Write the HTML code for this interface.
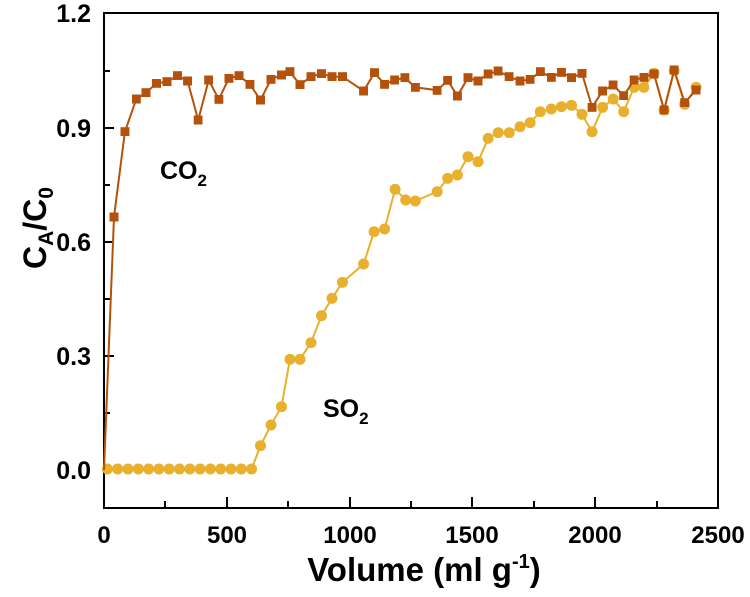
<!DOCTYPE html>
<html><head><meta charset="utf-8"><style>
body{margin:0;background:#fff;}
text{font-family:"Liberation Sans",Arial,sans-serif;font-weight:bold;fill:#000;}
</style></head><body>
<svg width="750" height="592" viewBox="0 0 750 592" xmlns="http://www.w3.org/2000/svg">
<defs>
<marker id="sq" viewBox="0 0 10 10" refX="5" refY="5" markerWidth="9" markerHeight="9" markerUnits="userSpaceOnUse"><rect width="10" height="10" fill="#b4520c"/></marker>
<marker id="ci" viewBox="0 0 10 10" refX="5" refY="5" markerWidth="11" markerHeight="11" markerUnits="userSpaceOnUse"><circle cx="5" cy="5" r="5" fill="#e9b02e"/></marker>
</defs>
<rect x="104" y="13" width="614" height="495" fill="none" stroke="#000" stroke-width="2"/>
<g stroke="#000" stroke-width="2">
<line x1="104" y1="470" x2="114" y2="470"/><line x1="104" y1="356" x2="114" y2="356"/><line x1="104" y1="242" x2="114" y2="242"/><line x1="104" y1="128" x2="114" y2="128"/>
<line x1="104" y1="413" x2="110" y2="413"/><line x1="104" y1="299" x2="110" y2="299"/><line x1="104" y1="185" x2="110" y2="185"/><line x1="104" y1="71" x2="110" y2="71"/>
<line x1="227" y1="508" x2="227" y2="497"/><line x1="350" y1="508" x2="350" y2="497"/><line x1="472" y1="508" x2="472" y2="497"/><line x1="595" y1="508" x2="595" y2="497"/>
<line x1="165" y1="508" x2="165" y2="501"/><line x1="288" y1="508" x2="288" y2="501"/><line x1="411" y1="508" x2="411" y2="501"/><line x1="534" y1="508" x2="534" y2="501"/><line x1="657" y1="508" x2="657" y2="501"/>
</g>
<g font-size="25" text-anchor="end">
<text x="91" y="479">0.0</text><text x="91" y="365">0.3</text><text x="91" y="251">0.6</text><text x="91" y="137">0.9</text><text x="91" y="22">1.2</text>
</g>
<g font-size="24" text-anchor="middle">
<text x="104" y="543">0</text><text x="227" y="543">500</text><text x="350" y="543">1000</text><text x="472" y="543">1500</text><text x="595" y="543">2000</text><text x="718" y="543">2500</text>
</g>
<text x="424" y="581" font-size="33" text-anchor="middle">Volume (ml g<tspan font-size="20" dy="-13">-1</tspan><tspan dy="13">)</tspan></text>
<text transform="translate(46,228) rotate(-90)" font-size="32" text-anchor="middle">C<tspan font-size="21" dy="7">A</tspan><tspan dy="-7">/C</tspan><tspan font-size="21" dy="7">0</tspan></text>
<text x="160" y="179" font-size="25">CO<tspan font-size="17" dy="7">2</tspan></text>
<text x="323" y="417" font-size="25">SO<tspan font-size="17" dy="7">2</tspan></text>
<polyline fill="none" stroke="#e9b02e" stroke-width="2" marker-start="url(#ci)" marker-mid="url(#ci)" marker-end="url(#ci)" points="107.4,469 117.7,469 128,469 138.3,469 148.6,469 158.9,469 169.2,469 179.5,469 189.8,469 200.1,469 210.4,469 220.7,469 231,469 241.3,469 251.6,469 260.5,445.7 271,425 281.5,406.7 289.9,359.3 300,359.3 311,342.7 321.5,315.7 332,298.3 342.5,282.3 363.6,264 374.1,231.7 384.6,229 395.1,189.3 405.7,200 415.3,201 437.2,191.7 447.7,178.3 457.4,175 468,156.7 478,161.7 488.2,138.3 498.2,132.7 509.2,132.7 520.1,126.7 530.2,122.7 540.3,111.7 551.3,109 561.4,106.7 571.5,105.3 582,114.3 592.1,131.7 602.6,107.3 613.2,99 623.7,111.7 634.2,87.3 643.9,87.3 654,73.3 664.1,110 674.2,70.7 684.7,104.3 696.1,87.3"/>
<polyline fill="none" stroke="#b4520c" stroke-width="2" marker-mid="url(#sq)" marker-end="url(#sq)" points="104,470 114,217 124.9,131.7 136.3,99 146,92.7 156.5,83.3 167,81.7 177.5,75.7 187.6,81 198.2,120 208.7,80 218.8,99.3 228.9,78.3 239,75.7 249.9,84.3 260.5,100 271,79.3 281.5,75 289.9,71.7 300,84.7 311,76.7 321.5,73.7 332,76.7 342.5,76.7 363.6,91 374.5,72.7 384.6,84.3 394.7,80 404.8,77.7 415.3,87.3 437.2,90.3 447.7,80.3 457.4,96 468,77.7 478,81 488.2,74 498.2,71 509.2,76.7 520.1,81 530.2,79.3 540.3,71.7 551.3,77.3 561.4,72.3 571.5,77.7 582,73.3 592.1,107.3 602.6,91 613.2,85 623.7,95.7 634.2,80 643.9,77.3 654,74 664.1,110 674.2,70 684.7,102.7 696.1,90"/>
</svg>
</body></html>
